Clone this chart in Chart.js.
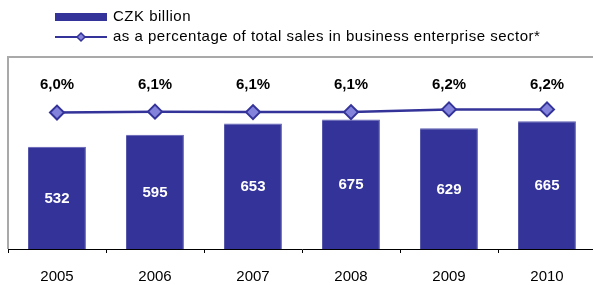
<!DOCTYPE html>
<html>
<head>
<meta charset="utf-8">
<script src="https://cdn.jsdelivr.net/npm/chart.js@4/dist/chart.umd.min.js"></script>
<style>
    body { margin: 0; background: #fff; overflow: hidden; }
    #wrap { width: 593px; height: 285px; overflow: hidden; }
</style>
</head>
<body>
<div id="wrap"><canvas id="chart" width="598" height="285"></canvas></div>
<script>
// Datos
const years = ['2005', '2006', '2007', '2008', '2009', '2010'];
const czkBillion = [532, 595, 653, 675, 629, 665];
const pctOfSales = [6.04, 6.08, 6.06, 6.06, 6.18, 6.18];

const legendLabels = ['CZK billion', 'as a percentage of total sales in business enterprise sector*'];

const NAVY = '#333399';
const MARKER = '#8383dc';
const FONT = '"Liberation Sans", Arial, sans-serif';

// Marco gris (arriba e izquierda)
const framePlugin = {
    id: 'frame',
    beforeDatasetsDraw(chart) {
        const { ctx, chartArea: a } = chart;
        ctx.save();
        ctx.strokeStyle = '#a9a9a9';
        ctx.lineWidth = 2;
        ctx.beginPath();
        ctx.moveTo(a.left, a.bottom);
        ctx.lineTo(a.left, a.top);
        ctx.lineTo(a.right + 5, a.top);
        ctx.stroke();
        ctx.restore();
    }
};

// Etiquetas de valores
const labelsPlugin = {
    id: 'valueLabels',
    afterDatasetsDraw(chart) {
        const ctx = chart.ctx;
        ctx.save();
        ctx.textAlign = 'center';
        ctx.textBaseline = 'middle';
        ctx.font = 'bold 15px ' + FONT;

        const bars = chart.getDatasetMeta(0).data;
        ctx.fillStyle = '#fff';
        bars.forEach((bar, i) => {
            ctx.fillText(String(czkBillion[i]), bar.x, (bar.y + bar.base) / 2 + 1);
        });

        const pts = chart.getDatasetMeta(1).data;
        ctx.fillStyle = '#000';
        pts.forEach((pt, i) => {
            ctx.fillText(pctOfSales[i].toFixed(1).replace('.', ',') + '%', pt.x, 84.5);
        });
        ctx.restore();
    }
};

// Leyenda dibujada a mano (barra + línea con rombo)
const legendPlugin = {
    id: 'customLegend',
    afterDraw(chart) {
        const ctx = chart.ctx;
        ctx.save();
        ctx.font = '15px ' + FONT;
        ctx.letterSpacing = '0.5px';
        ctx.textBaseline = 'middle';

        ctx.fillStyle = NAVY;
        ctx.fillRect(55, 13, 52, 8);
        ctx.fillStyle = '#000';
        ctx.fillText(legendLabels[0], 113, 17);

        ctx.strokeStyle = NAVY;
        ctx.lineWidth = 2;
        ctx.beginPath();
        ctx.moveTo(55, 37);
        ctx.lineTo(107, 37);
        ctx.stroke();
        ctx.fillStyle = MARKER;
        ctx.lineWidth = 1.5;
        ctx.beginPath();
        ctx.moveTo(81, 33);
        ctx.lineTo(85, 37);
        ctx.lineTo(81, 41);
        ctx.lineTo(77, 37);
        ctx.closePath();
        ctx.fill();
        ctx.stroke();
        ctx.fillStyle = '#000';
        ctx.fillText(legendLabels[1], 113, 37);
        ctx.restore();
    }
};

new Chart(document.getElementById('chart').getContext('2d'), {
    data: {
        labels: years,
        datasets: [
            {
                type: 'bar',
                data: czkBillion,
                backgroundColor: NAVY,
                borderColor: '#5c5cb4',
                borderWidth: { left: 0, right: 1, top: 1, bottom: 0 },
                barPercentage: 0.59,
                categoryPercentage: 1,
                yAxisID: 'y',
                order: 2
            },
            {
                type: 'line',
                data: pctOfSales,
                borderColor: NAVY,
                borderWidth: 2.5,
                pointStyle: 'rectRot',
                pointRadius: 7,
                pointBackgroundColor: MARKER,
                pointBorderColor: NAVY,
                pointBorderWidth: 2,
                tension: 0,
                yAxisID: 'y2',
                order: 1
            }
        ]
    },
    options: {
        responsive: false,
        devicePixelRatio: 1,
        animation: false,
        layout: { autoPadding: false, padding: { left: 8, top: 57, right: 2, bottom: 0 } },
        plugins: {
            legend: { display: false },
            tooltip: { enabled: false }
        },
        scales: {
            x: {
                grid: {
                    offset: true,
                    drawOnChartArea: false,
                    tickLength: 4,
                    color: '#000'
                },
                border: { color: '#000', width: 1 },
                ticks: {
                    color: '#000',
                    font: { family: FONT, size: 15 },
                    padding: 15,
                    maxRotation: 0
                },
                afterFit(scale) { scale.height = 36; }
            },
            y: { display: false, min: 0, max: 1000 },
            y2: { display: false, min: 0, max: 8.5 }
        }
    },
    plugins: [framePlugin, labelsPlugin, legendPlugin]
});
</script>
</body>
</html>
